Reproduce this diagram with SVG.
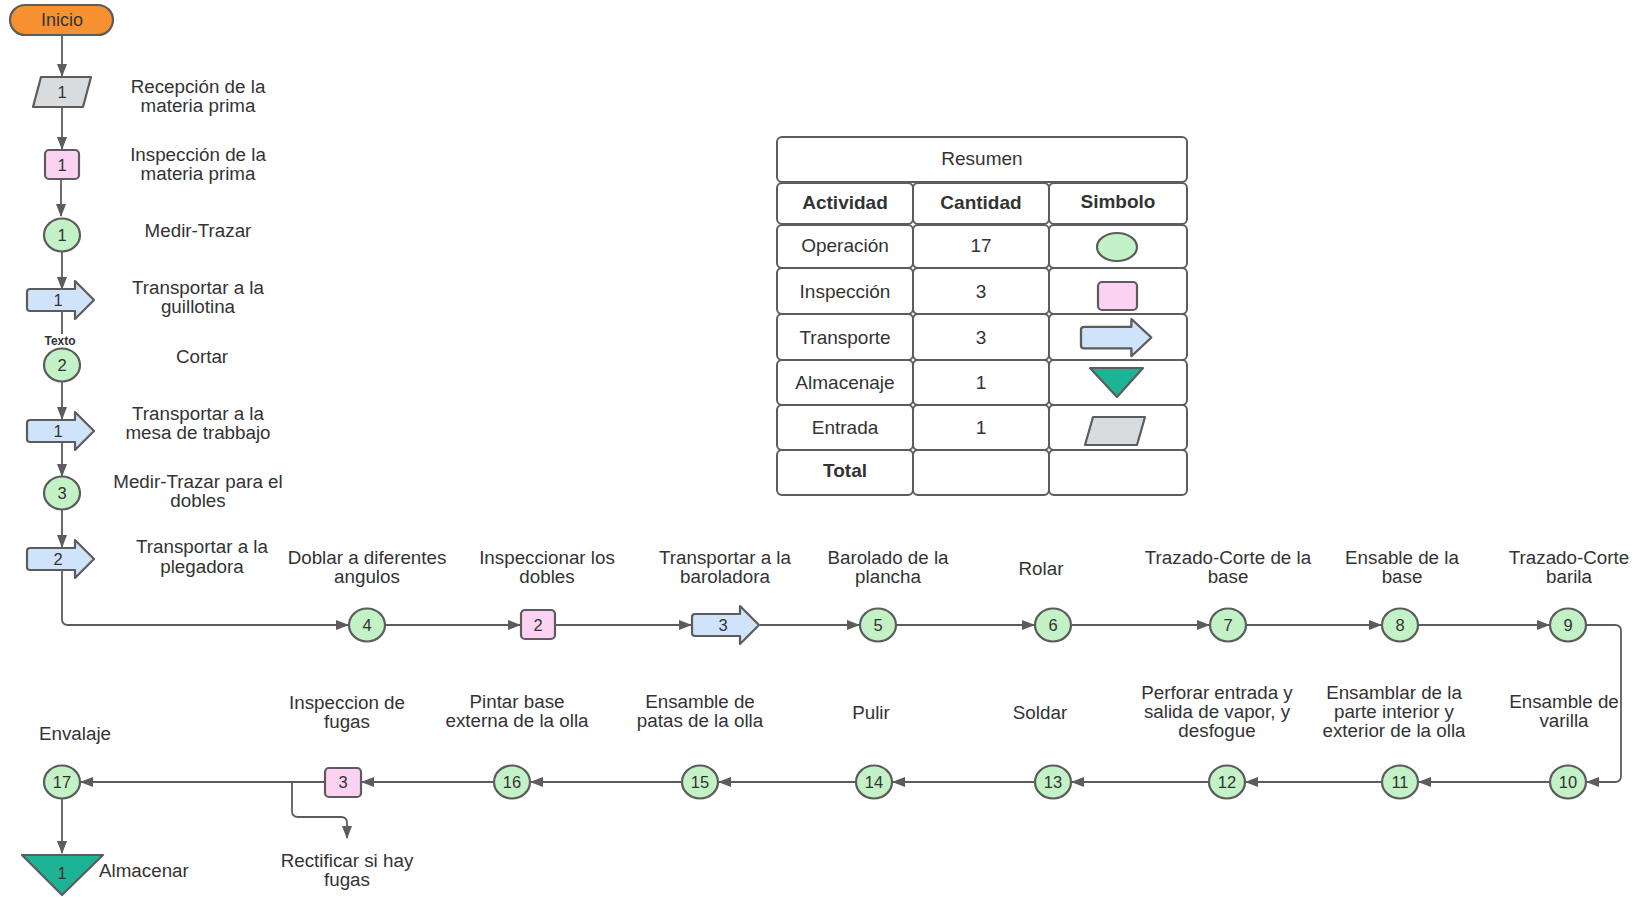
<svg xmlns="http://www.w3.org/2000/svg" xmlns:xlink="http://www.w3.org/1999/xlink" width="1636" height="897" viewBox="0 0 1636 897">
  <style>
    text { font-family: "Liberation Sans", Arial, sans-serif; fill: #333; }
    .lbl { font-size: 18.8px; text-anchor: middle; }
    .num { font-size: 16.5px; text-anchor: middle; }
    .tb { font-size: 19px; text-anchor: middle; }
    .bold { font-weight: bold; }
    .op { fill: #c3f2c6; stroke: #5c5c5c; stroke-width: 2.2; }
    .insp { fill: #fcd2f2; stroke: #5c5c5c; stroke-width: 2.2; }
    .tr { fill: #cfe3fb; stroke: #5c5c5c; stroke-width: 2.2; stroke-linejoin: round; }
    .inp { fill: #d9dcdf; stroke: #5c5c5c; stroke-width: 2.2; stroke-linejoin: round; }
    .st { fill: #1db394; stroke: #5c5c5c; stroke-width: 2.2; stroke-linejoin: round; }
    .cell { fill: #fff; stroke: #5c5c5c; stroke-width: 2; }
    .con { fill: none; stroke: #5c5c5c; stroke-width: 1.8; }
    .arr { marker-end: url(#ah); }
  </style>
  <defs>
    <marker id="ah" markerWidth="13" markerHeight="10" refX="12" refY="5" orient="auto" markerUnits="userSpaceOnUse">
      <path d="M0,0 L13,5 L0,10 Z" fill="#5c5c5c"/>
    </marker>
    <!-- transport block arrow, 68 x 40 -->
    <path id="trShape" d="M3,9 H48 V1 L67,20 L48,39 V31 H3 Q0,31 0,28 V12 Q0,9 3,9 Z"/>
  </defs>
  <rect width="1636" height="897" fill="#fff"/>

  <!-- connectors -->
  <g id="connectors">
    <path class="con arr" d="M62,35 V76"/>
    <path class="con arr" d="M62,107 V149"/>
    <path class="con arr" d="M61,179 V216"/>
    <path class="con arr" d="M62,252 V289"/>
    <path class="con" d="M62,311 V334"/>
    <path class="con arr" d="M62,382 V419"/>
    <path class="con arr" d="M62,441 V476"/>
    <path class="con arr" d="M62,510 V547"/>
    <path class="con arr" d="M62,570 V619 Q62,625 68,625 H348"/>
    <path class="con arr" d="M386,625 H520"/>
    <path class="con arr" d="M556,625 H691"/>
    <path class="con arr" d="M760,625 H859"/>
    <path class="con arr" d="M897,625 H1034"/>
    <path class="con arr" d="M1072,625 H1209"/>
    <path class="con arr" d="M1246,625 H1381"/>
    <path class="con arr" d="M1419,625 H1549"/>
    <path class="con arr" d="M1587,625 H1615 Q1621,625 1621,631 V776 Q1621,782 1615,782 H1587"/>
    <path class="con arr" d="M1549,782 H1419"/>
    <path class="con arr" d="M1381,782 H1246"/>
    <path class="con arr" d="M1208,782 H1072"/>
    <path class="con arr" d="M1034,782 H893"/>
    <path class="con arr" d="M855,782 H719"/>
    <path class="con arr" d="M681,782 H531"/>
    <path class="con arr" d="M493,782 H362"/>
    <path class="con arr" d="M325,782 H81"/>
    <path class="con arr" d="M292,782 V811 Q292,817 298,817 H341 Q347,817 347,823 V838"/>
    <path class="con arr" d="M62,799 V853"/>
  </g>

  <!-- start -->
  <g id="inicio">
    <rect x="10" y="5" width="103" height="30" rx="15" fill="#f7902f" stroke="#5c5c5c" stroke-width="2.2"/>
    <text class="lbl" x="62" y="26" style="font-size:18px">Inicio</text>
  </g>

  <!-- left column -->
  <g id="entrada-1">
    <polygon class="inp" points="41,77 91,77 83,107 33,107"/>
    <text class="num" x="62" y="98">1</text>
    <text class="lbl" x="198" y="93">Recepción de la</text>
    <text class="lbl" x="198" y="112">materia prima</text>
  </g>
  <g id="inspeccion-1">
    <rect class="insp" x="45" y="150" width="34" height="29" rx="4"/>
    <text class="num" x="62" y="171">1</text>
    <text class="lbl" x="198" y="161">Inspección de la</text>
    <text class="lbl" x="198" y="180">materia prima</text>
  </g>
  <g id="operacion-1">
    <ellipse class="op" cx="62" cy="235" rx="18" ry="16.5"/>
    <text class="num" x="62" y="241">1</text>
    <text class="lbl" x="198" y="237">Medir-Trazar</text>
  </g>
  <g id="transporte-1">
    <use xlink:href="#trShape" class="tr" x="27" y="280"/>
    <text class="num" x="58" y="306">1</text>
    <text class="lbl" x="198" y="294">Transportar a la</text>
    <text class="lbl" x="198" y="313">guillotina</text>
  </g>
  <g id="texto">
    <text x="60" y="345" font-size="12" font-weight="bold" text-anchor="middle">Texto</text>
  </g>
  <g id="operacion-2">
    <ellipse class="op" cx="62" cy="365" rx="18" ry="16.5"/>
    <text class="num" x="62" y="371">2</text>
    <text class="lbl" x="202" y="363">Cortar</text>
  </g>
  <g id="transporte-2">
    <use xlink:href="#trShape" class="tr" x="27" y="411"/>
    <text class="num" x="58" y="437">1</text>
    <text class="lbl" x="198" y="420">Transportar a la</text>
    <text class="lbl" x="198" y="439">mesa de trabbajo</text>
  </g>
  <g id="operacion-3">
    <ellipse class="op" cx="62" cy="493" rx="18" ry="16.5"/>
    <text class="num" x="62" y="499">3</text>
    <text class="lbl" x="198" y="488">Medir-Trazar para el</text>
    <text class="lbl" x="198" y="507">dobles</text>
  </g>
  <g id="transporte-3">
    <use xlink:href="#trShape" class="tr" x="27" y="539"/>
    <text class="num" x="58" y="565">2</text>
    <text class="lbl" x="202" y="553">Transportar a la</text>
    <text class="lbl" x="202" y="573">plegadora</text>
  </g>

  <!-- first row -->
  <g id="operacion-4">
    <ellipse class="op" cx="367" cy="625" rx="18" ry="16.5"/>
    <text class="num" x="367" y="631">4</text>
    <text class="lbl" x="367" y="564">Doblar a diferentes</text>
    <text class="lbl" x="367" y="583">angulos</text>
  </g>
  <g id="inspeccion-2">
    <rect class="insp" x="521" y="610" width="34" height="29" rx="4"/>
    <text class="num" x="538" y="631">2</text>
    <text class="lbl" x="547" y="564">Inspeccionar los</text>
    <text class="lbl" x="547" y="583">dobles</text>
  </g>
  <g id="transporte-4">
    <use xlink:href="#trShape" class="tr" x="692" y="605"/>
    <text class="num" x="723" y="631">3</text>
    <text class="lbl" x="725" y="564">Transportar a la</text>
    <text class="lbl" x="725" y="583">baroladora</text>
  </g>
  <g id="operacion-5">
    <ellipse class="op" cx="878" cy="625" rx="18" ry="16.5"/>
    <text class="num" x="878" y="631">5</text>
    <text class="lbl" x="888" y="564">Barolado de la</text>
    <text class="lbl" x="888" y="583">plancha</text>
  </g>
  <g id="operacion-6">
    <ellipse class="op" cx="1053" cy="625" rx="18" ry="16.5"/>
    <text class="num" x="1053" y="631">6</text>
    <text class="lbl" x="1041" y="575">Rolar</text>
  </g>
  <g id="operacion-7">
    <ellipse class="op" cx="1228" cy="625" rx="18" ry="16.5"/>
    <text class="num" x="1228" y="631">7</text>
    <text class="lbl" x="1228" y="564">Trazado-Corte de la</text>
    <text class="lbl" x="1228" y="583">base</text>
  </g>
  <g id="operacion-8">
    <ellipse class="op" cx="1400" cy="625" rx="18" ry="16.5"/>
    <text class="num" x="1400" y="631">8</text>
    <text class="lbl" x="1402" y="564">Ensable de la</text>
    <text class="lbl" x="1402" y="583">base</text>
  </g>
  <g id="operacion-9">
    <ellipse class="op" cx="1568" cy="625" rx="18" ry="16.5"/>
    <text class="num" x="1568" y="631">9</text>
    <text class="lbl" x="1569" y="564">Trazado-Corte</text>
    <text class="lbl" x="1569" y="583">barila</text>
  </g>

  <!-- second row -->
  <g id="operacion-10">
    <ellipse class="op" cx="1568" cy="782" rx="18" ry="16.5"/>
    <text class="num" x="1568" y="788">10</text>
    <text class="lbl" x="1564" y="708">Ensamble de</text>
    <text class="lbl" x="1564" y="727">varilla</text>
  </g>
  <g id="operacion-11">
    <ellipse class="op" cx="1400" cy="782" rx="18" ry="16.5"/>
    <text class="num" x="1400" y="788">11</text>
    <text class="lbl" x="1394" y="699">Ensamblar de la</text>
    <text class="lbl" x="1394" y="718">parte interior y</text>
    <text class="lbl" x="1394" y="737">exterior de la olla</text>
  </g>
  <g id="operacion-12">
    <ellipse class="op" cx="1227" cy="782" rx="18" ry="16.5"/>
    <text class="num" x="1227" y="788">12</text>
    <text class="lbl" x="1217" y="699">Perforar entrada y</text>
    <text class="lbl" x="1217" y="718">salida de vapor, y</text>
    <text class="lbl" x="1217" y="737">desfogue</text>
  </g>
  <g id="operacion-13">
    <ellipse class="op" cx="1053" cy="782" rx="18" ry="16.5"/>
    <text class="num" x="1053" y="788">13</text>
    <text class="lbl" x="1040" y="719">Soldar</text>
  </g>
  <g id="operacion-14">
    <ellipse class="op" cx="874" cy="782" rx="18" ry="16.5"/>
    <text class="num" x="874" y="788">14</text>
    <text class="lbl" x="871" y="719">Pulir</text>
  </g>
  <g id="operacion-15">
    <ellipse class="op" cx="700" cy="782" rx="18" ry="16.5"/>
    <text class="num" x="700" y="788">15</text>
    <text class="lbl" x="700" y="708">Ensamble de</text>
    <text class="lbl" x="700" y="727">patas de la olla</text>
  </g>
  <g id="operacion-16">
    <ellipse class="op" cx="512" cy="782" rx="18" ry="16.5"/>
    <text class="num" x="512" y="788">16</text>
    <text class="lbl" x="517" y="708">Pintar base</text>
    <text class="lbl" x="517" y="727">externa de la olla</text>
  </g>
  <g id="inspeccion-3">
    <rect class="insp" x="325" y="768" width="36" height="29" rx="4"/>
    <text class="num" x="343" y="788">3</text>
    <text class="lbl" x="347" y="709">Inspeccion de</text>
    <text class="lbl" x="347" y="728">fugas</text>
  </g>
  <g id="rectificar">
    <text class="lbl" x="347" y="867">Rectificar si hay</text>
    <text class="lbl" x="347" y="886">fugas</text>
  </g>
  <g id="operacion-17">
    <ellipse class="op" cx="62" cy="782" rx="18" ry="16.5"/>
    <text class="num" x="62" y="788">17</text>
    <text class="lbl" x="75" y="740">Envalaje</text>
  </g>
  <g id="almacen-1">
    <polygon class="st" points="22,855 103,855 62,895"/>
    <text class="num" x="62" y="879">1</text>
    <text x="99" y="877" font-size="18.8">Almacenar</text>
  </g>

  <!-- summary table -->
  <g id="resumen">
    <rect class="cell" x="777" y="137" width="410" height="45" rx="5"/>
    <text class="tb" x="982" y="165">Resumen</text>

    <rect class="cell" x="777" y="183" width="136" height="41" rx="5"/>
    <rect class="cell" x="913" y="183" width="136" height="41" rx="5"/>
    <rect class="cell" x="1049" y="183" width="138" height="41" rx="5"/>
    <text class="tb bold" x="845" y="209">Actividad</text>
    <text class="tb bold" x="981" y="209">Cantidad</text>
    <text class="tb bold" x="1118" y="208">Simbolo</text>

    <rect class="cell" x="777" y="225" width="136" height="43" rx="5"/>
    <rect class="cell" x="913" y="225" width="136" height="43" rx="5"/>
    <rect class="cell" x="1049" y="225" width="138" height="43" rx="5"/>
    <text class="tb" x="845" y="252">Operación</text>
    <text class="tb" x="981" y="252">17</text>
    <ellipse class="op" cx="1117" cy="247" rx="20" ry="14"/>

    <rect class="cell" x="777" y="268" width="136" height="46" rx="5"/>
    <rect class="cell" x="913" y="268" width="136" height="46" rx="5"/>
    <rect class="cell" x="1049" y="268" width="138" height="46" rx="5"/>
    <text class="tb" x="845" y="298">Inspección</text>
    <text class="tb" x="981" y="298">3</text>
    <rect class="insp" x="1098" y="282" width="39" height="28" rx="4"/>

    <rect class="cell" x="777" y="314" width="136" height="46" rx="5"/>
    <rect class="cell" x="913" y="314" width="136" height="46" rx="5"/>
    <rect class="cell" x="1049" y="314" width="138" height="46" rx="5"/>
    <text class="tb" x="845" y="344">Transporte</text>
    <text class="tb" x="981" y="344">3</text>
    <use xlink:href="#trShape" class="tr" transform="translate(1081,318) scale(1.05,0.98)"/>

    <rect class="cell" x="777" y="360" width="136" height="45" rx="5"/>
    <rect class="cell" x="913" y="360" width="136" height="45" rx="5"/>
    <rect class="cell" x="1049" y="360" width="138" height="45" rx="5"/>
    <text class="tb" x="845" y="389">Almacenaje</text>
    <text class="tb" x="981" y="389">1</text>
    <polygon class="st" points="1090,368 1143,368 1117,397"/>

    <rect class="cell" x="777" y="405" width="136" height="45" rx="5"/>
    <rect class="cell" x="913" y="405" width="136" height="45" rx="5"/>
    <rect class="cell" x="1049" y="405" width="138" height="45" rx="5"/>
    <text class="tb" x="845" y="434">Entrada</text>
    <text class="tb" x="981" y="434">1</text>
    <polygon class="inp" points="1093,417 1145,417 1137,445 1085,445"/>

    <rect class="cell" x="777" y="450" width="136" height="45" rx="5"/>
    <rect class="cell" x="913" y="450" width="136" height="45" rx="5"/>
    <rect class="cell" x="1049" y="450" width="138" height="45" rx="5"/>
    <text class="tb bold" x="845" y="477">Total</text>
  </g>
</svg>
